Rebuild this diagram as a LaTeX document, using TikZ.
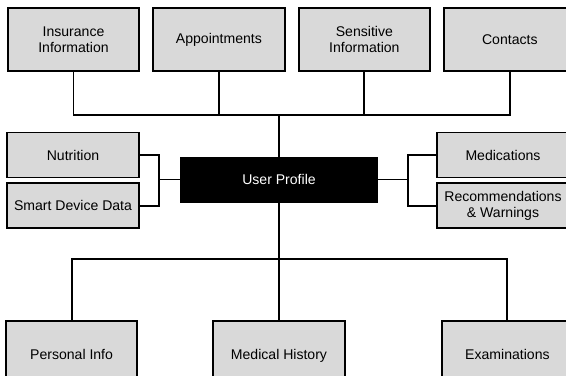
\documentclass[tikz,border=0pt]{standalone}
\usepackage{fontspec}
\setmainfont{Liberation Sans}
\usepackage{xcolor}
\usetikzlibrary{positioning}
\definecolor{boxgray}{RGB}{217,217,217}

\begin{document}
\begin{tikzpicture}[node distance=0.24cm,
    box/.style={draw, fill=boxgray, line width=1.1pt, minimum width=2.63cm, minimum height=1.26cm, align=center, inner sep=2pt, font=\fontsize{8pt}{9.2pt}\selectfont},
    sidebox/.style={box, minimum height=0.9cm},
    lowbox/.style={box, minimum height=1.4cm, text height=6pt, text depth=2pt},
    link/.style={line width=1.1pt}]
    \useasboundingbox (0,0) rectangle (11.32,7.5);
    \clip (0,0) rectangle (11.32,7.5);

    \node[draw, fill=black, text=white, minimum width=3.94cm, minimum height=0.9cm, font=\fontsize{8pt}{9.2pt}\selectfont] (profile) at (5.58,3.91) {User Profile};

    \node[box] (insurance) at (1.47,6.71) {Insurance\\Information};
    \node[box, right=of insurance] (appointments) {Appointments};
    \node[box, right=of appointments] (sensitive) {Sensitive\\Information};
    \node[box, right=of sensitive] (contacts) {Contacts};

    \node[sidebox] (nutrition) at (1.46,4.40) {Nutrition};
    \node[sidebox, below=0.08cm of nutrition] (smartdevice) {Smart Device Data};
    \node[sidebox] (medications) at (10.06,4.40) {Medications};
    \node[sidebox, below=0.08cm of medications] (recommendations) {Recommendations\\\& Warnings};

    \node[lowbox, below=2.36cm of profile] (medhistory) {Medical History};
    \node[lowbox, left=1.48cm of medhistory] (personal) {Personal Info};
    \node[lowbox, right=1.9cm of medhistory] (exams) {Examinations};

    \coordinate (topbus) at (5.58,5.20);
    \coordinate (lowbus) at (5.58,2.32);
    \coordinate (leftjoin) at (3.18,3.91);
    \coordinate (rightjoin) at (8.16,3.91);

    \draw[link] (insurance.south) |- (topbus) -| (contacts.south);
    \draw[link] (appointments.south) -- (appointments.south |- topbus);
    \draw[link] (sensitive.south) -- (sensitive.south |- topbus);
    \draw[link] (topbus) -- (profile.north);

    \draw[link] (nutrition.east) -| (leftjoin) |- (smartdevice.east);
    \draw[link] (leftjoin) -- (profile.west);
    \draw[link] (medications.west) -| (rightjoin) |- (recommendations.west);
    \draw[link] (rightjoin) -- (profile.east);

    \draw[link] (personal.north) |- (lowbus) -| (exams.north);
    \draw[link] (profile.south) -- (medhistory.north);
\end{tikzpicture}
\end{document}
